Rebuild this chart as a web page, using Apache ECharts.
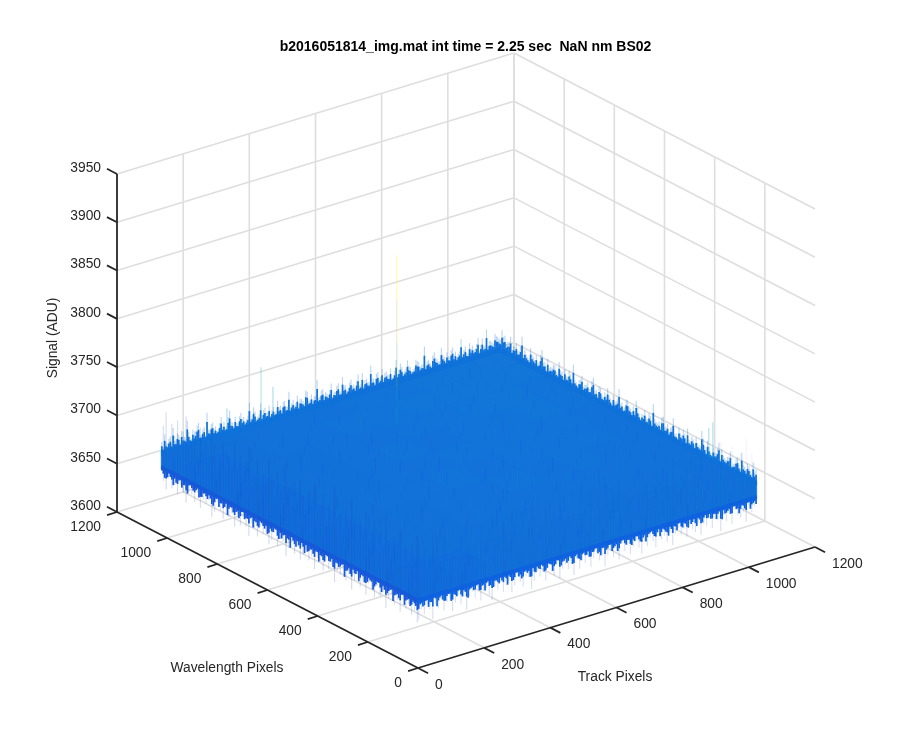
<!DOCTYPE html>
<html><head><meta charset="utf-8">
<style>html,body{margin:0;padding:0;background:#fff}#c{width:900px;height:750px}</style>
<script src="https://cdn.jsdelivr.net/npm/echarts@6/dist/echarts.min.js"></script>
</head><body><div id="c"></div>
<script>
const titleText = 'b2016051814_img.mat int time = 2.25 sec  NaN nm BS02';
const trackTicks = [0,200,400,600,800,1000,1200];
const waveTicks = [0,200,400,600,800,1000,1200];
const signalTicks = [3600,3650,3700,3750,3800,3850,3900,3950];
const surfaceExtent = 1024;

// mean signal per coarse patch: rows = wavelength 0..1024, columns = track 0..1024
const patchMeans = [
[3680,3681,3682,3682,3682,3683,3683,3683,3683,3683],
[3681,3682,3683,3683,3683,3684,3683,3684,3684,3683],
[3681,3682,3683,3684,3684,3684,3684,3684,3684,3684],
[3680,3682,3683,3684,3684,3685,3684,3685,3684,3684],
[3681,3682,3684,3684,3685,3684,3685,3685,3685,3684],
[3680,3682,3683,3684,3684,3685,3685,3685,3685,3684],
[3680,3682,3683,3684,3685,3684,3685,3685,3686,3685],
[3681,3682,3683,3684,3684,3685,3685,3686,3686,3685],
[3681,3682,3684,3684,3685,3685,3686,3686,3686,3686],
[3682,3683,3684,3684,3684,3685,3685,3686,3686,3687]
];

// individual pixel samples across the surface: rows = wavelength, columns = track
const pixelSamples = [
[3664,3668,3696,3663,3671,3690,3666,3673,3692,3669,3664,3688,3672,3667,3694,3670,3665,3689,3674,3668,3693,3671,3666,3691],
[3660,3692,3669,3676,3662,3694,3672,3668,3687,3675,3691,3666,3670,3695,3673,3664,3690,3677,3669,3692,3674,3667,3696,3672],
[3689,3662,3691,3670,3695,3667,3688,3674,3663,3693,3671,3689,3676,3665,3692,3672,3696,3668,3690,3675,3664,3693,3670,3688],
[3658,3690,3673,3666,3689,3677,3693,3664,3691,3672,3668,3695,3670,3687,3674,3692,3666,3689,3676,3670,3694,3672,3667,3691],
[3692,3659,3688,3675,3664,3694,3670,3690,3673,3666,3692,3676,3689,3668,3696,3671,3688,3674,3693,3665,3690,3677,3692,3669],
[3661,3694,3667,3690,3677,3663,3689,3672,3696,3669,3687,3674,3693,3670,3665,3691,3678,3668,3692,3673,3688,3666,3695,3674],
[3690,3656,3691,3671,3688,3694,3666,3691,3675,3688,3663,3692,3670,3689,3676,3694,3667,3690,3672,3696,3669,3687,3675,3691],
[3657,3689,3664,3693,3669,3676,3691,3668,3687,3694,3672,3666,3690,3677,3692,3669,3688,3674,3664,3691,3676,3693,3670,3688],
[3688,3663,3692,3674,3690,3665,3689,3676,3693,3670,3691,3675,3668,3695,3672,3687,3692,3667,3689,3675,3694,3670,3690,3673],
[3660,3691,3669,3687,3672,3695,3670,3663,3690,3676,3688,3693,3671,3666,3691,3674,3669,3696,3672,3688,3665,3692,3677,3689],
[3693,3655,3689,3676,3664,3691,3674,3689,3668,3692,3670,3687,3675,3694,3668,3690,3677,3664,3692,3670,3689,3674,3693,3669],
[3659,3692,3672,3690,3694,3667,3688,3675,3693,3664,3690,3677,3692,3669,3688,3673,3695,3671,3687,3676,3692,3668,3689,3675],
[3689,3661,3687,3668,3676,3692,3670,3691,3673,3689,3695,3666,3674,3690,3678,3667,3691,3674,3693,3669,3688,3694,3672,3690],
[3654,3693,3670,3692,3666,3689,3677,3664,3690,3672,3668,3692,3688,3675,3693,3670,3689,3666,3676,3691,3673,3667,3695,3671],
[3691,3658,3688,3674,3690,3672,3694,3669,3687,3676,3692,3671,3665,3691,3674,3688,3694,3672,3690,3668,3693,3677,3689,3674],
[3662,3690,3666,3689,3664,3693,3675,3688,3670,3694,3667,3689,3677,3692,3669,3696,3673,3688,3675,3692,3664,3690,3671,3694],
[3692,3656,3693,3671,3691,3668,3687,3676,3692,3663,3689,3674,3695,3670,3688,3672,3690,3677,3667,3693,3674,3689,3692,3670],
[3657,3689,3668,3688,3675,3692,3670,3694,3672,3689,3676,3691,3668,3687,3693,3675,3666,3691,3672,3688,3695,3671,3676,3690],
[3688,3663,3691,3673,3667,3690,3676,3689,3665,3692,3670,3688,3674,3694,3671,3690,3678,3689,3694,3669,3687,3675,3692,3673],
[3660,3692,3670,3694,3689,3672,3664,3691,3675,3688,3693,3667,3690,3676,3669,3692,3673,3687,3670,3691,3676,3693,3668,3689],
[3693,3659,3687,3666,3676,3693,3688,3670,3692,3672,3669,3694,3675,3689,3691,3668,3690,3674,3692,3667,3688,3672,3695,3675],
[3661,3690,3673,3691,3669,3687,3675,3692,3668,3690,3676,3688,3671,3693,3674,3689,3694,3670,3677,3690,3673,3692,3670,3689],
[3689,3664,3692,3668,3690,3674,3694,3666,3689,3673,3692,3670,3687,3676,3695,3672,3688,3691,3675,3669,3693,3677,3689,3694],
[3666,3691,3672,3689,3675,3693,3670,3690,3677,3692,3668,3689,3694,3672,3690,3675,3669,3692,3688,3674,3691,3670,3696,3678]
];

// highest samples along the rear edge at wavelength 1024, track 0..1024
const rearLeftPeaks = [
3696,3703,3692,3699,3707,3693,3698,3701,3694,3710,3692,3699,3696,3704,3691,3698,3712,3693,3700,3695,
3692,3703,3697,3692,3707,3694,3699,3691,3701,3696,3693,3709,3695,3698,3692,3705,3697,3693,3700,3694,
3691,3702,3696,3699,3693,3708,3695,3692,3701,3697,3694,3704,3692,3698,3695,3711,3693,3700,3696,3692,
3703,3694,3699,3692,3706,3697,3693,3701,3695,3698,3692,3704,3696,3693,3709,3695,3699,3692,3702,3697,
3694,3700,3692,3707,3696,3698,3693,3703,3695,3692,3701,3698,3694,3712,3696,3693,3700,3697,3692,3705,
3695,3699,3693,3702,3697,3694,3708,3696,3692,3701,3698,3694,3704,3696,3693,3710,3697,3695,3703,3699];
const rearLeftPeaksB = [
3690,3694,3697,3691,3693,3700,3689,3695,3692,3698,3690,3693,3702,3691,3696,3689,3694,3699,3692,3690,
3697,3693,3691,3701,3695,3689,3692,3698,3694,3690,3696,3692,3703,3690,3694,3691,3699,3693,3689,3697,
3692,3695,3690,3700,3693,3691,3698,3694,3689,3696,3691,3702,3693,3690,3695,3692,3699,3691,3694,3697,
3689,3693,3701,3692,3696,3690,3698,3694,3691,3704,3693,3690,3697,3692,3695,3689,3700,3694,3691,3698,
3693,3690,3696,3692,3702,3691,3695,3697,3690,3693,3699,3692,3694,3691,3697,3690,3703,3695,3692,3698,
3691,3694,3700,3693,3690,3696,3692,3699,3691,3695,3693,3698,3690,3702,3694,3692,3697,3693,3700,3696];
// highest samples along the rear edge at track 1024, wavelength 0..1024
const rearRightPeaks = [
3698,3704,3693,3700,3695,3708,3694,3699,3692,3703,3696,3693,3701,3706,3694,3698,3692,3702,3695,3709,
3693,3699,3696,3692,3704,3697,3694,3700,3692,3707,3695,3698,3693,3702,3696,3694,3711,3697,3692,3700,
3695,3693,3705,3698,3694,3701,3692,3696,3708,3694,3699,3693,3703,3697,3692,3700,3695,3706,3693,3698,
3694,3702,3696,3692,3709,3697,3693,3700,3695,3704,3692,3698,3694,3701,3696,3707,3693,3699,3695,3703,
3692,3698,3710,3694,3700,3696,3704,3697,3702,3706];
const rearRightPeaksB = [
3694,3691,3698,3692,3696,3690,3701,3693,3689,3697,3692,3695,3690,3699,3693,3691,3696,3689,3702,3692,
3694,3690,3698,3693,3691,3700,3695,3689,3692,3697,3690,3694,3703,3691,3693,3696,3690,3699,3692,3694,
3689,3698,3693,3691,3695,3701,3690,3693,3697,3692,3689,3696,3694,3691,3699,3690,3693,3702,3692,3695,
3691,3697,3689,3694,3692,3700,3693,3690,3696,3691,3698,3694,3692,3689,3695,3701,3691,3693,3697,3690,
3694,3692,3699,3693,3696,3691,3698,3694,3700,3695];
// lowest samples along the front edge at track 0, wavelength 0..1024
const frontLeftLows = [
3647,3658,3652,3661,3655,3664,3649,3659,3653,3662,3656,3645,3660,3654,3663,3650,3657,3661,3648,3659,
3653,3664,3656,3646,3660,3652,3662,3655,3658,3644,3661,3654,3663,3650,3657,3660,3647,3659,3653,3662,
3656,3649,3661,3652,3664,3655,3645,3658,3660,3651,3663,3654,3648,3659,3656,3662,3650,3657,3661,3646,
3654,3663,3652,3659,3648,3660,3655,3662,3650,3657,3664,3653,3646,3661,3656,3659,3649,3663,3652,3658,
3660,3647,3655,3662,3651,3659,3654,3664,3650,3657];
const frontLeftLowsB = [
3663,3666,3660,3665,3658,3667,3662,3664,3656,3666,3661,3663,3659,3667,3664,3657,3665,3662,3660,3666,
3658,3664,3667,3661,3663,3655,3666,3662,3665,3659,3663,3667,3660,3664,3657,3666,3662,3665,3661,3658,
3667,3663,3660,3665,3656,3664,3666,3661,3659,3667,3663,3665,3658,3662,3666,3660,3664,3657,3665,3663,
3661,3667,3659,3664,3662,3666,3656,3663,3665,3660,3667,3658,3664,3662,3666,3661,3659,3665,3663,3667,
3657,3664,3660,3666,3662,3658,3665,3663,3661,3667];
// lowest samples along the front edge at wavelength 0, track 0..1024
const frontRightLows = [
3650,3660,3654,3663,3657,3646,3661,3655,3664,3651,3659,3662,3648,3656,3663,3653,3660,3645,3658,3662,
3655,3664,3650,3659,3661,3653,3647,3660,3656,3663,3652,3658,3662,3649,3655,3664,3657,3651,3661,3659,
3646,3654,3663,3656,3660,3650,3662,3658,3653,3664,3648,3657,3661,3655,3659,3647,3663,3652,3660,3656,
3662,3650,3658,3664,3654,3660,3646,3657,3662,3653,3659,3649,3664,3656,3661,3651,3658,3663,3655,3648,
3660,3654,3662,3657,3650,3664,3656,3659,3652,3661,3647,3658,3663,3655,3660,3651,3664,3657,3653,3662,
3649,3659,3656,3663,3652,3660,3658,3646,3662,3655,3661,3650,3664,3657,3654,3659,3648,3663,3656,3661];
const frontRightLowsB = [
3665,3662,3667,3660,3664,3668,3658,3666,3663,3661,3667,3659,3665,3662,3668,3660,3664,3657,3666,3663,
3667,3661,3665,3659,3668,3663,3660,3666,3662,3664,3667,3658,3665,3661,3668,3663,3660,3666,3664,3659,
3667,3662,3665,3668,3660,3663,3666,3658,3664,3667,3661,3665,3662,3668,3659,3666,3663,3660,3667,3664,
3661,3665,3668,3662,3659,3666,3663,3667,3660,3664,3658,3665,3668,3662,3666,3660,3663,3667,3661,3664,
3659,3666,3668,3662,3665,3660,3667,3663,3658,3664,3666,3661,3668,3662,3665,3660,3663,3667,3659,3665,
3661,3668,3664,3662,3666,3660,3667,3658,3663,3665,3661,3668,3664,3659,3666,3662,3667,3660,3665,3663];
// isolated spikes: [track, wavelength, top signal, bottom signal]
const spikeSegments = [
[551,811,3861,3815],[551,811,3815,3770],[551,811,3770,3725],[551,811,3725,3685],[551,811,3685,3640],
[302,1024,3742,3685],[338,1024,3718,3685],[199,1024,3710,3685],[1024,175,3724,3685],[1024,191,3716,3685]
];

const parula = ['#2a3aa8','#0f5cdd','#1481d6','#06a4ca','#2eb7a4','#87bf77','#d1bb59','#fec832','#f9fb0e'];

// view of the 3D box: where the three axis directions land on the page
const origin = {x:418, y:668};
const trackDir = {x:397/1200, y:-121/1200};
const waveDir = {x:-301/1200, y:-156/1200};
const signalBase = 3600, signalScale = 338/350;
function project(t, w, s) {
  return [origin.x + t*trackDir.x + w*waveDir.x,
          origin.y + t*trackDir.y + w*waveDir.y - (s-signalBase)*signalScale];
}
const solidHigh = 3687, solidLow = 3668, planeLevel = 3680;
const ink = '#262626', gridInk = '#dedede', fontFam = '"Liberation Sans", Arial, sans-serif';
const tickFont = '13.8px ' + fontFam;
const rearBlue = '#0f72da', frontLeftBlue = '#1759d8', frontRightBlue = '#0f62df';

function segment(api, a, b, style) {
  const p = api.coord(project(a[0],a[1],a[2])), q = api.coord(project(b[0],b[1],b[2]));
  return {type:'line', shape:{x1:p[0],y1:p[1],x2:q[0],y2:q[1]}, style};
}
const sT = signalTicks[signalTicks.length-1], s0 = signalTicks[0];
const maxT = trackTicks[trackTicks.length-1], maxW = waveTicks[waveTicks.length-1];

const gridSegs = [];
trackTicks.forEach(t => { if(t>0){ gridSegs.push([t,0,s0,t,maxW,s0]); gridSegs.push([t,maxW,s0,t,maxW,sT]); }});
waveTicks.forEach(w => { if(w>0){ gridSegs.push([0,w,s0,maxT,w,s0]); gridSegs.push([maxT,w,s0,maxT,w,sT]); }});
signalTicks.forEach(s => { if(s>s0){ gridSegs.push([0,maxW,s,maxT,maxW,s]); gridSegs.push([maxT,maxW,s,maxT,0,s]); }});
const axisSegs = [[0,maxW,s0,0,maxW,sT],[0,0,s0,0,maxW,s0],[0,0,s0,maxT,0,s0]];
const tickLen = {track:40, wave:30, signal:40};
trackTicks.forEach(t => axisSegs.push([t,0,s0,t,-tickLen.track,s0]));
waveTicks.forEach(w => axisSegs.push([0,w,s0,-tickLen.wave,w,s0]));
signalTicks.forEach(s => axisSegs.push([0,maxW,s,0,maxW+tickLen.signal,s]));

const lineSeries = (data, style) => ({type:'custom', coordinateSystem:'cartesian2d', silent:true, clip:false, data,
  encode:{x:0,y:1},
  renderItem:(p,api)=>segment(api,[api.value(0),api.value(1),api.value(2)],[api.value(3),api.value(4),api.value(5)],style)});

const labelSeries = (ticks, toPoint, dx, dy, align) => ({type:'custom', coordinateSystem:'cartesian2d', silent:true, clip:false,
  data: ticks.map(v=>[v]), encode:{x:0},
  renderItem:(p,api)=>{
    const v = ticks[p.dataIndex], c = api.coord(project.apply(null,toPoint(v)));
    return {type:'text', x:c[0]+dx, y:c[1]+dy, style:{text:String(v), fill:ink, font:tickFont, align, verticalAlign:'middle'}};
  }});

// surface patches, painted rear to front
const patchData = [];
const nP = patchMeans.length;
for (let i=nP-1;i>=0;i--) for (let j=nP-1;j>=0;j--)
  patchData.push([j*surfaceExtent/nP, i*surfaceExtent/nP, patchMeans[i][j], (j+1)*surfaceExtent/nP, (i+1)*surfaceExtent/nP]);
const pixelData = [];
const nS = pixelSamples.length;
for (let i=nS-1;i>=0;i--) for (let j=nS-1;j>=0;j--)
  pixelData.push([(j+.5)*surfaceExtent/nS, (i+.5)*surfaceExtent/nS, pixelSamples[i][j]]);
const edge = (vals, phase, f) => vals.map((v,k)=>{ const d=(k+phase)*surfaceExtent/vals.length; return f(d).concat(v); });
const rearData = edge(rearLeftPeaks,.25,d=>[d,surfaceExtent]).concat(edge(rearLeftPeaksB,.75,d=>[d,surfaceExtent]),
  edge(rearRightPeaks,.25,d=>[surfaceExtent,d]), edge(rearRightPeaksB,.75,d=>[surfaceExtent,d]));
const frontLeftA = edge(frontLeftLows,.25,d=>[0,d]), frontLeftB = edge(frontLeftLowsB,.75,d=>[0,d]);
const frontRightA = edge(frontRightLows,.25,d=>[d,0]), frontRightB = edge(frontRightLowsB,.75,d=>[d,0]);

// a stroke from signal level "from" towards the sample, reaching the given fraction of the way
const streak = (data, from, reach, width, opacity, fixedColor) => ({type:'custom', coordinateSystem:'cartesian2d', silent:true, clip:false, data,
  encode:{x:0,y:1}, progressive:0,
  renderItem:(p,api)=>{
    const t=api.value(0), w=api.value(1), v=api.value(2);
    return segment(api,[t,w,from],[t,w,from+(v-from)*reach],{stroke:fixedColor||api.visual('color'),lineWidth:width,opacity});
  }});
// soft darkening above the front edge: the lower the sample, the further up its stroke runs
const shade = (data, opacity) => ({type:'custom', coordinateSystem:'cartesian2d', silent:true, clip:false, data,
  encode:{x:0,y:1}, progressive:0,
  renderItem:(p,api)=>{
    const t=api.value(0), w=api.value(1), v=api.value(2);
    return segment(api,[t,w,3672],[t,w,planeLevel+10+(3668-v)*2.2],{stroke:api.visual('color'),lineWidth:1.2,opacity});
  }});

const surfaceSeries = [
  {type:'custom', coordinateSystem:'cartesian2d', silent:true, clip:false, data:patchData, encode:{x:0,y:1}, progressive:0,
   renderItem:(p,api)=>{
     const t0=api.value(0), w0=api.value(1), t1=api.value(3), w1=api.value(4);
     const pts=[[t0,w1,solidHigh],[t1,w1,solidHigh],[t1,w0,solidHigh],[t1,w0,solidLow],[t0,w0,solidLow],[t0,w1,solidLow]]
       .map(q=>api.coord(project(q[0],q[1],q[2])));
     const col=api.visual('color');
     return {type:'polygon', shape:{points:pts}, style:{fill:col,stroke:col,lineWidth:.5}};
   }},
  streak(rearData, 3682, 1, 1.1, .3, rearBlue),
  streak(rearData, 3682, .68, 1.7, 1, rearBlue),
  streak(frontLeftA, 3672, 1, 1.1, .2),
  shade(frontLeftA, .18),
  streak(frontLeftA, 3672, .5, 1.7, 1, frontLeftBlue),
  streak(frontLeftB, 3672, 1, 1.7, 1, frontLeftBlue),
  streak(frontRightA, 3672, 1, 1.1, .18),
  shade(frontRightA, .06),
  streak(frontRightA, 3672, .5, 1.7, 1, frontRightBlue),
  streak(frontRightB, 3672, 1, 1.7, 1, frontRightBlue),
  streak(pixelData, planeLevel, 1, 1, .28),
  {type:'custom', coordinateSystem:'cartesian2d', silent:true, clip:false, data:spikeSegments, encode:{x:0,y:1},
   renderItem:(p,api)=>segment(api,[api.value(0),api.value(1),api.value(2)],[api.value(0),api.value(1),api.value(3)],
     {stroke:api.visual('color'),lineWidth:1,opacity:.38})}
];
const series = [lineSeries(gridSegs,{stroke:gridInk,lineWidth:1.6})].concat(surfaceSeries, [
  lineSeries(axisSegs,{stroke:ink,lineWidth:1.8}),
  labelSeries(trackTicks,t=>[t,0,s0],17,17,'left'),
  labelSeries(waveTicks,w=>[0,w,s0],-16,15,'right'),
  labelSeries(signalTicks,s=>[0,maxW,s],-16,-6,'right')
]);

const chart = echarts.init(document.getElementById('c'),null,{renderer:'canvas'});
chart.setOption({
  animation:false,
  backgroundColor:'#fff',
  title:{text:titleText,left:465.5,top:40,textAlign:'center',itemGap:0,padding:0,
    textStyle:{color:'#000',fontFamily:fontFam,fontWeight:'bold',fontSize:14}},
  grid:{left:0,right:0,top:0,bottom:0},
  xAxis:{type:'value',min:0,max:900,show:false},
  yAxis:{type:'value',min:0,max:750,inverse:true,show:false},
  visualMap:{show:false,type:'continuous',min:3640,max:3860,dimension:2,seriesIndex:surfaceSeries.map((s,i)=>i+1),inRange:{color:parula}},
  graphic:[
    {type:'text',x:227,y:668,style:{text:'Wavelength Pixels',fill:ink,font:tickFont,align:'center',verticalAlign:'middle'}},
    {type:'text',x:615,y:677,style:{text:'Track Pixels',fill:ink,font:tickFont,align:'center',verticalAlign:'middle'}},
    {type:'text',x:53,y:338,rotation:Math.PI/2,style:{text:'Signal (ADU)',fill:ink,font:tickFont,align:'center',verticalAlign:'middle'}}
  ],
  series
});
</script></body></html>
